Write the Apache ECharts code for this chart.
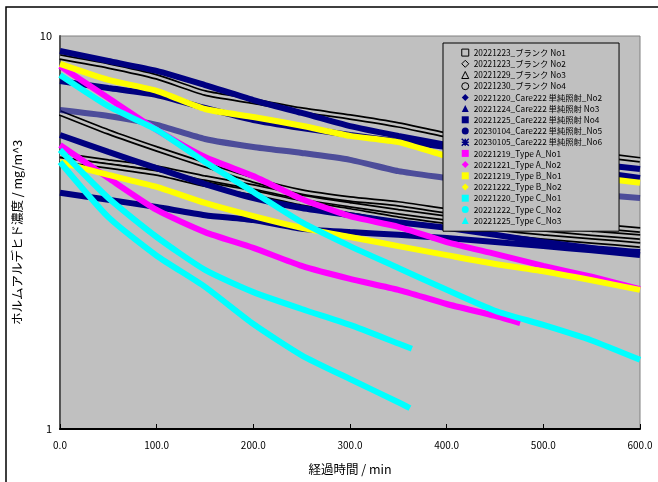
<!DOCTYPE html>
<html>
<head>
<meta charset="utf-8">
<script src="https://cdn.jsdelivr.net/npm/echarts@6/dist/echarts.min.js"></script>
<style>
  html, body { margin: 0; padding: 0; background: #fff; }
  #chart { width: 658px; height: 482px; }
</style>
</head>
<body>
<div id="chart"></div>
<script>
// 経過時間 (min)
const tFull = [0, 50, 100, 150, 200, 250, 300, 350, 400, 450, 500, 550, 600];
const tTypeA1 = [0, 50, 100, 150, 200, 250, 300, 350, 400, 450, 476];
const tTypeC2 = [0, 50, 100, 150, 200, 250, 300, 350, 364];
const tTypeC3 = [0, 50, 100, 150, 200, 250, 300, 350, 362];

// ホルムアルデヒド濃度 (mg/m^3)
const blankNo1 = [8.84, 8.39, 7.87, 7.16, 6.82, 6.48, 6.22, 5.94, 5.60, 5.37, 5.19, 5.01, 4.84];
const blankNo2 = [4.98, 4.78, 4.61, 4.35, 4.13, 3.89, 3.72, 3.57, 3.44, 3.32, 3.23, 3.15, 3.08];
const blankNo3 = [6.37, 5.70, 5.16, 4.70, 4.30, 4.01, 3.85, 3.74, 3.59, 3.46, 3.36, 3.29, 3.21];
const blankNo4 = [4.84, 4.67, 4.48, 4.20, 3.99, 3.76, 3.59, 3.42, 3.29, 3.17, 3.08, 3.01, 2.94];
const careNo2 = [9.16, 8.64, 8.15, 7.50, 6.87, 6.37, 5.90, 5.57, 5.28, 4.98, 4.75, 4.53, 4.35];
const careNo3 = [7.68, 7.37, 7.08, 6.56, 6.11, 5.83, 5.60, 5.40, 5.22, 5.04, 4.89, 4.73, 4.59];
const careNo4 = [3.99, 3.83, 3.67, 3.50, 3.40, 3.23, 3.17, 3.12, 3.06, 2.99, 2.92, 2.85, 2.77];
const careNo5 = [5.60, 5.07, 4.61, 4.20, 3.87, 3.65, 3.50, 3.36, 3.25, 3.12, 2.99, 2.89, 2.82];
const careNo6 = [6.48, 6.26, 5.94, 5.47, 5.22, 5.04, 4.84, 4.53, 4.35, 4.18, 4.06, 3.96, 3.87];
const typeA1 = [5.28, 4.35, 3.61, 3.17, 2.89, 2.60, 2.41, 2.26, 2.08, 1.94, 1.86];
const typeA2 = [8.39, 6.95, 5.77, 4.92, 4.40, 3.85, 3.48, 3.27, 2.99, 2.79, 2.60, 2.44, 2.27];
const typeB1 = [4.78, 4.43, 4.13, 3.76, 3.48, 3.25, 3.08, 2.92, 2.77, 2.63, 2.52, 2.39, 2.26];
const typeB2 = [8.49, 7.73, 7.25, 6.52, 6.22, 5.91, 5.57, 5.37, 4.95, 4.75, 4.56, 4.38, 4.23];
const typeC1 = [7.96, 6.63, 5.77, 4.78, 4.01, 3.36, 2.92, 2.57, 2.26, 2.00, 1.84, 1.68, 1.50];
const typeC2 = [5.13, 3.87, 3.08, 2.54, 2.23, 2.02, 1.84, 1.65, 1.60];
const typeC3 = [4.78, 3.46, 2.76, 2.30, 1.85, 1.54, 1.34, 1.17, 1.13];

const xTicks = [0, 100, 200, 300, 400, 500, 600];

const NAVY = "#000080", MAGENTA = "#ff00ff", YELLOW = "#ffff00", CYAN = "#00ffff";
const STAR = "path://M0,0L10,10M10,0L0,10M5,0L5,10M0,5L10,5";

// name, times, values, color, legend icon, open (hollow marker) or not
const defs = [
	["20221223_ブランク No1", tFull, blankNo1, "#000", "rect", true],
	["20221223_ブランク No2", tFull, blankNo2, "#000", "diamond", true],
	["20221229_ブランク No3", tFull, blankNo3, "#000", "triangle", true],
	["20221230_ブランク No4", tFull, blankNo4, "#000", "circle", true],
	["20221220_Care222 単純照射_No2", tFull, careNo2, NAVY, "diamond", false],
	["20221224_Care222 単純照射 No3", tFull, careNo3, NAVY, "triangle", false],
	["20221225_Care222 単純照射 No4", tFull, careNo4, NAVY, "rect", false],
	["20230104_Care222 単純照射_No5", tFull, careNo5, NAVY, "circle", false],
	["20230105_Care222 単純照射_No6", tFull, careNo6, NAVY, STAR, false],
	["20221219_Type A_No1", tTypeA1, typeA1, MAGENTA, "rect", false],
	["20221221_Type A_No2", tFull, typeA2, MAGENTA, "diamond", false],
	["20221219_Type B_No1", tFull, typeB1, YELLOW, "rect", false],
	["20221222_Type B_No2", tFull, typeB2, YELLOW, "diamond", false],
	["20221220_Type C_No1", tFull, typeC1, CYAN, "rect", false],
	["20221222_Type C_No2", tTypeC2, typeC2, CYAN, "circle", false],
	["20221225_Type C_No3", tTypeC3, typeC3, CYAN, "triangle", false],
];

const series = [];
const legendData = [];
defs.forEach(([name, t, v, color, icon, open]) => {
	const data = t.map((x, i) => [x, v[i]]);
	const isStar = icon === STAR;
	series.push({
		name: name,
		type: "line",
		data: data,
		smooth: 0.2,
		showSymbol: false,
		lineStyle: { color: color, width: 6, opacity: isStar ? 0.6 : 1 },
		itemStyle: { color: color },
	});
	if (open) {
		// 中抜きマーカーの見た目
		series.push({
			name: name,
			type: "line",
			data: data,
			smooth: 0.2,
			showSymbol: false,
			silent: true,
			lineStyle: { color: "#c0c0c0", width: 2.5 },
		});
	}
	legendData.push({
		name: name,
		icon: icon,
		itemStyle: open
			? { color: "rgba(0,0,0,0)", borderColor: "#000", borderWidth: 1 }
			: isStar
			? { color: NAVY, borderColor: NAVY, borderWidth: 1.5 }
			: { color: color, borderWidth: 0 },
	});
});

const chart = echarts.init(document.getElementById("chart"));
chart.setOption({
	animation: false,
	backgroundColor: "#fff",
	textStyle: { fontFamily: "Noto Sans CJK JP" },
	graphic: [
		{
			type: "rect",
			shape: { x: 6, y: 7, width: 700, height: 520 },
			style: { fill: "none", stroke: "#000", lineWidth: 1.5 },
			silent: true,
		},
	],
	grid: {
		left: 60,
		top: 36,
		right: 18,
		bottom: 53,
		show: true,
		backgroundColor: "#c0c0c0",
		borderColor: "#808080",
		borderWidth: 1,
	},
	legend: {
		data: legendData,
		orient: "vertical",
		left: 443,
		top: 43,
		padding: [4, 17, 5, 18],
		itemWidth: 7,
		itemHeight: 7,
		itemGap: 0,
		backgroundColor: "#c0c0c0",
		borderColor: "#000",
		borderWidth: 1,
		selectedMode: false,
		textStyle: {
			fontSize: 8.3,
			color: "#000",
			lineHeight: 11.2,
			fontFamily: "Noto Sans CJK JP",
		},
	},
	xAxis: {
		type: "value",
		min: 0,
		max: 600,
		interval: 100,
		name: "経過時間 / min",
		nameLocation: "middle",
		nameGap: 34,
		nameTextStyle: { fontSize: 12.5, color: "#000" },
		axisLine: { lineStyle: { color: "#000", width: 2 } },
		axisTick: { inside: true, length: 5, lineStyle: { color: "#000" } },
		axisLabel: {
			margin: 11,
			fontSize: 10,
			color: "#000",
			formatter: (v) => (xTicks.includes(v) ? v.toFixed(1) : ""),
		},
		splitLine: { show: false },
	},
	yAxis: {
		type: "log",
		logBase: 10,
		min: 1,
		max: 10,
		name: "ホルムアルデヒド濃度 / mg/m^3",
		nameLocation: "middle",
		nameGap: 36,
		nameTextStyle: { fontSize: 12.5, color: "#000" },
		axisLine: { show: true, lineStyle: { color: "#555", width: 2 } },
		axisTick: { show: false },
		axisLabel: { fontSize: 11, color: "#000", margin: 8 },
		splitLine: { show: false },
	},
	series: series,
});
</script>
</body>
</html>
